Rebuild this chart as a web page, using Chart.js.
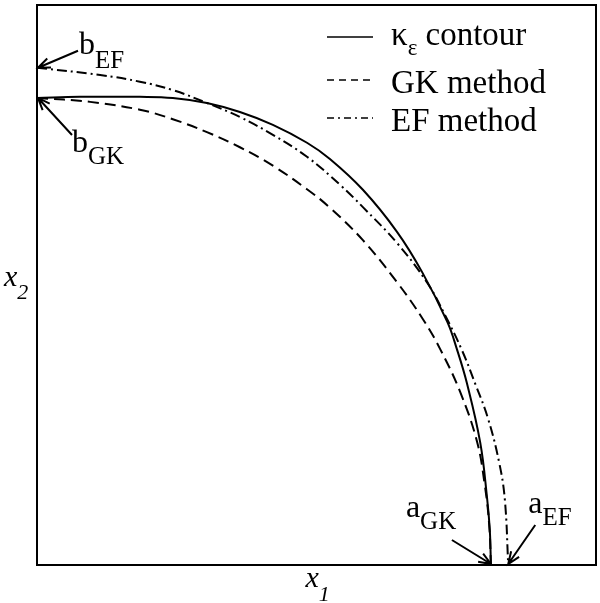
<!DOCTYPE html>
<html>
<head>
<meta charset="utf-8">
<script src="https://cdn.jsdelivr.net/npm/chart.js@4"></script>
<style>
  html, body { margin: 0; padding: 0; background: #fff; }
  canvas { display: block; }
</style>
</head>
<body>
<canvas id="contourChart" width="600" height="603"></canvas>
<script>
// Contour data (x1, x2)
const solidX = [0, 0.77, 1.84, 2.43, 3.04, 3.63, 4.22, 4.83, 5.24, 5.83, 6.44, 6.89, 7.34, 7.51, 7.69, 7.93, 8.05, 8.10, 8.12];
const solidY = [8.34, 8.36, 8.36, 8.34, 8.25, 8.09, 7.86, 7.54, 7.25, 6.70, 5.95, 5.23, 4.34, 3.86, 3.25, 2.18, 1.21, 0.63, 0];

const gkX = [0, 0.95, 1.84, 2.43, 3.04, 3.63, 4.22, 4.83, 5.24, 5.83, 6.44, 6.91, 7.21, 7.57, 7.87, 8.01, 8.09, 8.12];
const gkY = [8.34, 8.27, 8.13, 7.96, 7.73, 7.46, 7.13, 6.71, 6.38, 5.80, 5.05, 4.38, 3.86, 3.09, 2.21, 1.43, 0.71, 0];

const efX = [0, 1.13, 1.84, 2.43, 3.04, 3.63, 4.22, 4.83, 5.42, 5.83, 6.44, 6.98, 7.30, 7.60, 7.85, 8.07, 8.27, 8.37, 8.43];
const efY = [8.88, 8.75, 8.63, 8.48, 8.25, 8.00, 7.68, 7.29, 6.79, 6.39, 5.75, 5.04, 4.46, 3.84, 3.21, 2.61, 1.82, 1.16, 0];

// legend labels, [text, subscript?]
const legendLabels = [
    [['κ', false], ['ε', true], [' contour', false]],
    [['GK method', false]],
    [['EF method', false]]
];
const dashStyles = [[], [11, 6], [10, 4, 2, 4]];
const legendDash = [[], [7, 5], [7, 4, 2, 4]];

function toPoints(xs, ys) {
    return xs.map(function(x, i) { return { x: x, y: ys[i] }; });
}

const SERIF = '"Liberation Serif", "Times New Roman", serif';

// draw text with subscripts, returns end x
function drawRich(ctx, parts, x, y, size, subSize, subDrop, italic) {
    parts.forEach(function(p) {
        const sub = p[1];
        ctx.font = (italic ? 'italic ' : '') + (sub ? subSize : size) + 'px ' + SERIF;
        ctx.fillText(p[0], x, sub ? y + subDrop : y);
        x += ctx.measureText(p[0]).width;
    });
    return x;
}

function arrow(ctx, x0, y0, x1, y1) {
    const ang = Math.atan2(y1 - y0, x1 - x0);
    const len = 13, spread = 0.38;
    ctx.beginPath();
    ctx.moveTo(x0, y0);
    ctx.lineTo(x1, y1);
    ctx.moveTo(x1 - len * Math.cos(ang - spread), y1 - len * Math.sin(ang - spread));
    ctx.lineTo(x1, y1);
    ctx.lineTo(x1 - len * Math.cos(ang + spread), y1 - len * Math.sin(ang + spread));
    ctx.stroke();
}

// frame, axis titles, legend and intercept labels
const decorPlugin = {
    id: 'decor',
    afterDraw: function(chart) {
        const ctx = chart.ctx;
        const a = chart.chartArea;
        const sx = chart.scales.x, sy = chart.scales.y;
        ctx.save();
        ctx.strokeStyle = '#000';
        ctx.fillStyle = '#000';
        ctx.textBaseline = 'alphabetic';

        // box
        ctx.lineWidth = 2;
        ctx.setLineDash([]);
        ctx.strokeRect(a.left, a.top, a.right - a.left, a.bottom - a.top);

        // axis titles
        const cx = (a.left + a.right) / 2;
        const cy = (a.top + a.bottom) / 2;
        drawRich(ctx, [['x', false], ['1', true]], cx - 11, a.bottom + 22, 30, 22, 14, true);
        drawRich(ctx, [['x', false], ['2', true]], 4, cy + 1, 30, 22, 13, true);

        // legend
        const rowLine = [37, 80, 118];
        const rowText = [45, 93, 131];
        legendLabels.forEach(function(parts, i) {
            ctx.lineWidth = 1.6;
            ctx.setLineDash(legendDash[i]);
            ctx.beginPath();
            ctx.moveTo(a.right - 269, rowLine[i]);
            ctx.lineTo(a.right - 223, rowLine[i]);
            ctx.stroke();
            ctx.setLineDash([]);
            drawRich(ctx, parts, a.right - 205, rowText[i], 33, 23, 10, false);
        });

        // intercepts
        ctx.lineWidth = 2;
        ctx.setLineDash([]);
        const bEF = { x: sx.getPixelForValue(efX[0]), y: sy.getPixelForValue(efY[0]) };
        const bGK = { x: sx.getPixelForValue(gkX[0]), y: sy.getPixelForValue(gkY[0]) };
        const aGK = { x: sx.getPixelForValue(gkX[gkX.length - 1]), y: sy.getPixelForValue(gkY[gkY.length - 1]) };
        const aEF = { x: sx.getPixelForValue(efX[efX.length - 1]), y: sy.getPixelForValue(efY[efY.length - 1]) };

        arrow(ctx, bEF.x + 41, bEF.y - 17, bEF.x + 1, bEF.y);
        drawRich(ctx, [['b', false], ['EF', true]], bEF.x + 42, bEF.y - 14, 32, 25, 14, false);

        arrow(ctx, bGK.x + 35, bGK.y + 37, bGK.x + 1, bGK.y);
        drawRich(ctx, [['b', false], ['GK', true]], bGK.x + 35, bGK.y + 54, 32, 25, 12, false);

        arrow(ctx, aGK.x - 39, aGK.y - 25, aGK.x, aGK.y - 1);
        drawRich(ctx, [['a', false], ['GK', true]], aGK.x - 85, aGK.y - 48, 32, 25, 12, false);

        arrow(ctx, aEF.x + 27, aEF.y - 40, aEF.x, aEF.y - 1);
        drawRich(ctx, [['a', false], ['EF', true]], aEF.x + 20, aEF.y - 52, 32, 25, 12, false);

        ctx.restore();
    }
};

const ctx = document.getElementById('contourChart');
new Chart(ctx, {
    type: 'scatter',
    data: {
        datasets: [
            { label: 'κε contour', data: toPoints(solidX, solidY) },
            { label: 'GK method', data: toPoints(gkX, gkY) },
            { label: 'EF method', data: toPoints(efX, efY) }
        ].map(function(d, i) {
            d.showLine = true;
            d.borderColor = '#000';
            d.borderWidth = 2;
            d.borderDash = dashStyles[i];
            d.pointRadius = 0;
            d.tension = 0.4;
            d.fill = false;
            return d;
        })
    },
    options: {
        responsive: false,
        animation: false,
        layout: { padding: { left: 37, top: 5, right: 4, bottom: 38 } },
        scales: {
            x: { type: 'linear', min: 0, max: 10, display: false },
            y: { type: 'linear', min: 0, max: 10, display: false }
        },
        plugins: {
            legend: { display: false },
            tooltip: { enabled: false }
        }
    },
    plugins: [decorPlugin]
});
</script>
</body>
</html>
